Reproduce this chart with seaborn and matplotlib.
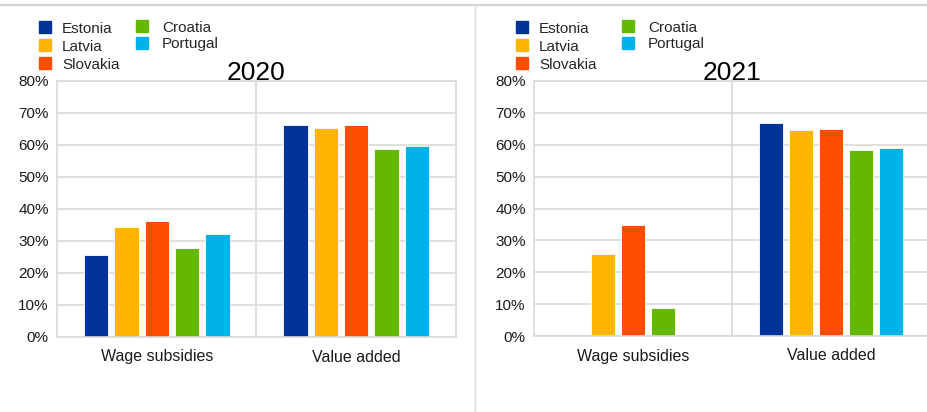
import matplotlib
matplotlib.use("Agg")
import matplotlib.pyplot as plt
import seaborn as sns
import pandas as pd
import numpy as np
from matplotlib.lines import Line2D
from matplotlib.ticker import PercentFormatter

# -------------------------
# DATA
# -------------------------
countries = ["Estonia", "Latvia", "Slovakia", "Croatia", "Portugal"]
categories = ["Wage subsidies", "Value added"]
colors = ["#003399", "#FFB400", "#FF4D00", "#65B800", "#00B1EA"]

wage_2020 = [25.6, 34.3, 36.1, 27.7, 32.1]
value_2020 = [66.1, 65.3, 66.1, 58.8, 59.7]
wage_2021 = [np.nan, 25.7, 34.7, 8.9, np.nan]
value_2021 = [66.8, 64.6, 64.9, 58.4, 58.9]


def long_df(wage, value):
    rows = []
    for c, w, v in zip(countries, wage, value):
        rows.append({"category": categories[0], "country": c, "share": w})
        rows.append({"category": categories[1], "country": c, "share": v})
    return pd.DataFrame(rows)


df_2020 = long_df(wage_2020, value_2020)
df_2021 = long_df(wage_2021, value_2021)

# -------------------------
# FIGURE
# -------------------------
sns.set_style("white")
plt.rcParams["font.family"] = ["Liberation Sans", "DejaVu Sans"]

fig = plt.figure(figsize=(9.28, 4.12), dpi=100)
grid_col = "#d9d9d9"

panels = [
    (df_2020, "2020", [57 / 928, 1 - 337 / 412, 399 / 928, 256 / 412], 41, 138),
    (df_2021, "2021", [534 / 928, 1 - 336 / 412, 396 / 928, 255 / 412], 518, 624),
]

for df, year, rect, lx, lx2 in panels:
    ax = fig.add_axes(rect)
    sns.barplot(
        data=df, x="category", y="share", hue="country",
        order=categories, hue_order=countries, palette=colors, saturation=1,
        width=0.76, gap=0.2, errorbar=None, legend=False,
        edgecolor="white", linewidth=0.6, ax=ax,
    )
    ax.set_ylim(0, 80)
    ax.set_xlim(-0.5, 1.5)
    ax.set_yticks(range(0, 81, 10))
    ax.yaxis.set_major_formatter(PercentFormatter(decimals=0))
    ax.set_xlabel("")
    ax.set_ylabel("")
    ax.grid(axis="y", color=grid_col, linewidth=1.2)
    ax.set_axisbelow(True)
    ax.axvline(0.5, color=grid_col, linewidth=1.2, zorder=0)
    for s in ax.spines.values():
        s.set_color(grid_col)
        s.set_linewidth(1.2)
    ax.tick_params(axis="both", length=0, colors="#1a1a1a")
    ax.tick_params(axis="x", pad=9, labelsize=11.5)
    ax.tick_params(axis="y", pad=6, labelsize=11)
    ax.set_title(year, fontsize=19, pad=1, color="black")

    # legend, two columns
    handles = [Line2D([], [], marker="s", linestyle="", markersize=8,
                      markerfacecolor=col, markeredgecolor=col) for col in colors]
    fig.legend(
        handles[:3], countries[:3], loc="upper left",
        bbox_to_anchor=(lx / 928 - 0.012, 1 - 14 / 412), frameon=False,
        fontsize=11, handlelength=1.0, handletextpad=0.6, labelspacing=0.26,
        borderpad=0,
    )
    fig.legend(
        handles[3:], countries[3:], loc="upper left",
        bbox_to_anchor=(lx2 / 928 - 0.012, 1 - 13 / 412), frameon=False,
        fontsize=11, handlelength=1.0, handletextpad=0.8, labelspacing=0.18,
        borderpad=0,
    )

# outer frame lines
fig.add_artist(Line2D([0, 1], [1 - 5 / 412, 1 - 5 / 412], color="#d4d4d4",
                      linewidth=1.6, transform=fig.transFigure))
fig.add_artist(Line2D([475 / 928, 475 / 928], [0, 1 - 5 / 412], color="#d9d9d9",
                      linewidth=1.0, transform=fig.transFigure))

plt.savefig("out.png", dpi=100)
plt.close()
